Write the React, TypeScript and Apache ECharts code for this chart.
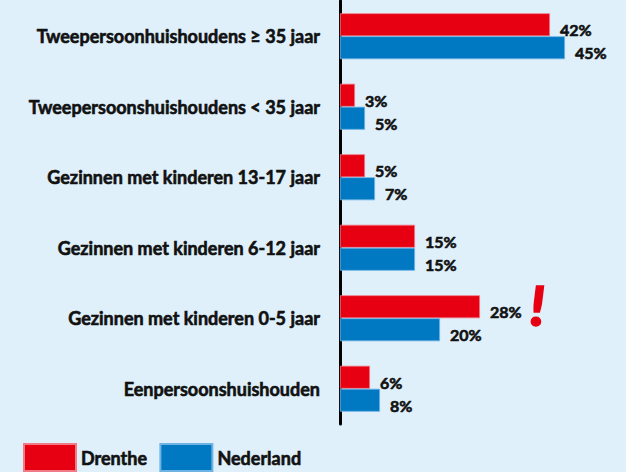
import React, { useEffect, useRef } from "react";
import * as echarts from "echarts";

const categories = [
  "Tweepersoonhuishoudens ≥ 35 jaar",
  "Tweepersoonshuishoudens < 35 jaar",
  "Gezinnen met kinderen 13-17 jaar",
  "Gezinnen met kinderen 6-12 jaar",
  "Gezinnen met kinderen 0-5 jaar",
  "Eenpersoonshuishouden",
];
const drenthe = [42, 3, 5, 15, 28, 6];
const nederland = [45, 5, 7, 15, 20, 8];
const seriesNames = ["Drenthe", "Nederland"];

const RED = "#e60012";
const BLUE = "#0079c2";
const BG = "#dff0fb";
const FONT = "Lato";
const INK = "#111";

export default function App() {
  const ref = useRef<HTMLDivElement>(null);
  useEffect(() => {
    if (!ref.current) return;
    const chart = echarts.init(ref.current, undefined, { renderer: "svg" });
    const label = {
      show: true,
      position: "right" as const,
      distance: 10,
      offset: [0, 5],
      formatter: "{c}%",
      fontFamily: FONT,
      fontWeight: "bold" as const,
      fontSize: 16,
      color: INK,
      textBorderColor: INK,
      textBorderWidth: 0.6,
    };
    chart.setOption({
      animation: false,
      backgroundColor: BG,
      grid: { left: 340, right: 36, top: 1, height: 423 },
      xAxis: {
        type: "value",
        min: 0,
        max: 50,
        show: false,
      },
      yAxis: {
        type: "category",
        data: categories,
        inverse: true,
        offset: 8,
        axisLine: { show: true, lineStyle: { color: "#000", width: 3 } },
        axisTick: { show: false },
        splitLine: { show: false },
        axisLabel: {
          margin: 12,
          fontFamily: FONT,
          fontWeight: "bold",
          fontSize: 18,
          color: INK,
          textBorderColor: INK,
          textBorderWidth: 0.6,
        },
      },
      legend: {
        left: 23,
        top: 443,
        itemWidth: 52,
        itemHeight: 27,
        itemGap: 12,
        icon: "rect",
        padding: 0,
        textStyle: {
          fontFamily: FONT,
          fontWeight: "bold",
          fontSize: 18,
          color: INK,
          textBorderColor: INK,
          textBorderWidth: 0.6,
          padding: [12, 0, 0, 0],
        },
        data: seriesNames,
      },
      series: [
        {
          name: seriesNames[0],
          type: "bar",
          data: drenthe,
          barWidth: 23,
          barGap: "0%",
          itemStyle: { color: RED, borderColor: "#f07a85", borderWidth: 0.8 },
          label,
        },
        {
          name: seriesNames[1],
          type: "bar",
          data: nederland,
          barWidth: 23,
          barGap: "0%",
          itemStyle: { color: BLUE, borderColor: "#6fb3e3", borderWidth: 0.8 },
          label,
        },
      ],
      graphic: [
        {
          type: "text",
          left: 529,
          top: 276,
          style: {
            text: "!",
            fontFamily: FONT,
            fontWeight: 900,
            fontStyle: "italic",
            fontSize: 56,
            fill: RED,
            stroke: RED,
            lineWidth: 1.5,
          },
        },
      ],
    });
    return () => chart.dispose();
  }, []);
  return (
    <div
      ref={ref}
      style={{ position: "fixed", left: 0, top: 0, width: 626, height: 472 }}
    />
  );
}
